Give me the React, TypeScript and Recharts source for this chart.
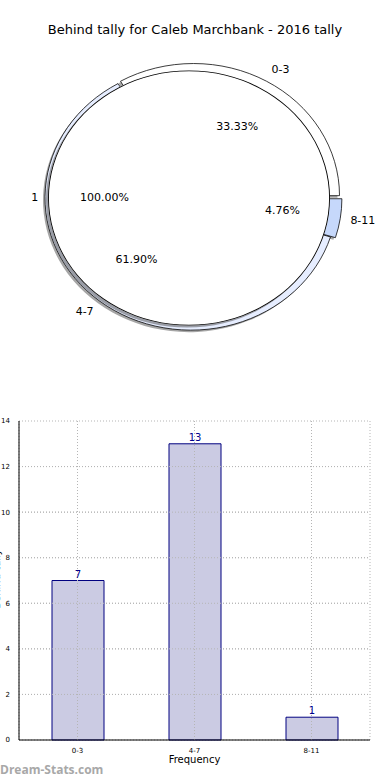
import React from "react";
import {
  PieChart,
  Pie,
  Cell,
  BarChart,
  Bar,
  XAxis,
  YAxis,
  CartesianGrid,
  LabelList,
  ReferenceLine,
} from "recharts";

// pie data (matplotlib style pie, drawn as an ellipse)
const PIE_NAMES = ["0-3", "4-7", "8-11"];
const PIE_VALUES = [7, 13, 1];
const PIE_COLORS = ["#ffffff", "#e6edff", "#c6d8fb"];
const TOTAL_NAMES = ["1"];
const TOTAL_VALUES = [1];

// bar data
const BAR_CATS = ["0-3", "4-7", "8-11"];
const BAR_VALUES = [7, 13, 1];
const Y_TICKS = [0, 2, 4, 6, 8, 10, 12, 14];

const RADIAN = Math.PI / 180;
const SY = 0.905; // vertical squash of the pie
const FONT = "'DejaVu Sans', sans-serif";

const pieData = PIE_NAMES.map((name, i) => ({ name, value: PIE_VALUES[i] }));
const totalData = TOTAL_NAMES.map((name, i) => ({ name, value: TOTAL_VALUES[i] }));
const barData = BAR_CATS.map((cat, i) => ({ cat, v: BAR_VALUES[i] }));

// explode offsets in px (pre-squash)
const EXPLODE = [
  { dx: 2.5, dy: -2.6 },
  { dx: 0, dy: 0 },
  { dx: 4.9, dy: 0.8 },
];

const PCX = 191;
const PCY = 198 / SY;
const PR = 146;
const TCX = 189;
const TR = 141;
const SHADOW = { dx: -2, dy: 2 / SY };

function squashedText(x: number, y: number, txt: string, anchor: string) {
  return (
    <text
      x={0}
      y={0}
      transform={`translate(${x},${y}) scale(1,${1 / SY})`}
      textAnchor={anchor}
      dominantBaseline="central"
      fontSize={11}
      fill="#000"
    >
      {txt}
    </text>
  );
}

function makeLabel(idx: number, values: number[]) {
  const sum = values.reduce((a, b) => a + b, 0);
  return (props: any) => {
    if (props.index !== idx) return null;
    const { cx, cy, midAngle, outerRadius, name } = props;
    const cos = Math.cos(-midAngle * RADIAN);
    const sin = Math.sin(-midAngle * RADIAN);
    const nx = cx + 1.07 * outerRadius * cos;
    const ny = cy + 1.1 * outerRadius * sin;
    const px = cx + 0.6 * outerRadius * cos;
    const py = cy + 0.6 * outerRadius * sin;
    const pct = ((values[idx] / sum) * 100).toFixed(2) + "%";
    return (
      <g>
        {squashedText(nx, ny, name, cos >= 0 ? "start" : "end")}
        {squashedText(px, py, pct, "middle")}
      </g>
    );
  };
}

function PiePart() {
  return (
    <div style={{ position: "absolute", left: 0, top: 0, width: 390, height: 390 }}>
      <div
        style={{
          position: "absolute",
          left: 0,
          top: 0,
          transform: `scaleY(${SY})`,
          transformOrigin: "0 0",
        }}
      >
        <PieChart width={390} height={431} margin={{ top: 0, right: 0, bottom: 0, left: 0 }}>
          {/* shadows of the tally wedges */}
          {PIE_NAMES.map((n, i) => (
            <Pie
              key={"s" + n}
              data={pieData}
              dataKey="value"
              cx={PCX + EXPLODE[i].dx + SHADOW.dx}
              cy={PCY + EXPLODE[i].dy + SHADOW.dy}
              outerRadius={PR}
              startAngle={0}
              endAngle={360}
              stroke="none"
              isAnimationActive={false}
            >
              {pieData.map((d, j) => (
                <Cell key={j} fill={j === i ? "#4d4d4d" : "none"} fillOpacity={0.5} stroke="none" />
              ))}
            </Pie>
          ))}
          {/* tally wedges */}
          {PIE_NAMES.map((n, i) => (
            <Pie
              key={"w" + n}
              data={pieData}
              dataKey="value"
              cx={PCX + EXPLODE[i].dx}
              cy={PCY + EXPLODE[i].dy}
              outerRadius={PR}
              startAngle={0}
              endAngle={360}
              isAnimationActive={false}
              labelLine={false}
              label={makeLabel(i, PIE_VALUES)}
            >
              {pieData.map((d, j) => (
                <Cell
                  key={j}
                  fill={j === i ? PIE_COLORS[j] : "none"}
                  stroke={j === i ? "#000" : "none"}
                  strokeWidth={0.8}
                />
              ))}
            </Pie>
          ))}
          {/* the full "1" circle */}
          <Pie
            data={totalData}
            dataKey="value"
            cx={TCX + SHADOW.dx}
            cy={PCY + SHADOW.dy}
            outerRadius={TR}
            startAngle={0}
            endAngle={360}
            fill="#4d4d4d"
            fillOpacity={0.5}
            stroke="none"
            isAnimationActive={false}
          />
          <Pie
            data={totalData}
            dataKey="value"
            cx={TCX}
            cy={PCY}
            outerRadius={TR}
            startAngle={0}
            endAngle={360}
            fill="#ffffff"
            stroke="none"
            isAnimationActive={false}
            labelLine={false}
            label={makeLabel(0, TOTAL_VALUES)}
          />
          <Pie
            data={totalData}
            dataKey="value"
            cx={TCX}
            cy={PCY}
            innerRadius={TR - 0.9}
            outerRadius={TR}
            startAngle={0}
            endAngle={360}
            fill="#000"
            stroke="none"
            isAnimationActive={false}
          />
        </PieChart>
      </div>
      <div
        style={{
          position: "absolute",
          left: 0,
          top: 21,
          width: 390,
          textAlign: "center",
          fontSize: 13,
          lineHeight: "18px",
        }}
      >
        Behind tally for Caleb Marchbank - 2016 tally
      </div>
    </div>
  );
}

function BarPart() {
  return (
    <div style={{ position: "absolute", left: 0, top: 390, width: 390, height: 390 }}>
      <div
        style={{
          position: "absolute",
          left: -63,
          top: 183,
          width: 120,
          textAlign: "center",
          fontSize: 10,
          lineHeight: "12px",
          transform: "rotate(-90deg)",
        }}
      >
        Behind tally
      </div>
      <div style={{ position: "absolute", left: 0, top: 0 }}>
        <BarChart width={390} height={390} data={barData} margin={{ top: 31, right: 20, left: 0, bottom: 0 }}>
          <CartesianGrid stroke="#b5b5b5" strokeDasharray="1 2" />
          <XAxis
            dataKey="cat"
            height={40}
            interval={0}
            tick={{ fontSize: 7, fill: "#000" }}
            tickLine={false}
            tickMargin={2}
            axisLine={{ stroke: "#000" }}
            label={{ value: "Frequency", position: "insideBottom", offset: 17, fontSize: 10, fill: "#000" }}
          />
          <XAxis
            xAxisId="top"
            orientation="top"
            dataKey="cat"
            height={0}
            tick={false}
            tickLine={false}
            axisLine={{ stroke: "#000" }}
          />
          <YAxis
            domain={[0, 14]}
            ticks={Y_TICKS}
            interval={0}
            width={19}
            tick={{ fontSize: 7, fill: "#000" }}
            tickLine={false}
            tickMargin={3}
            axisLine={{ stroke: "#000" }}
          />
          <YAxis
            yAxisId="right"
            orientation="right"
            domain={[0, 14]}
            width={0}
            tick={false}
            tickLine={false}
            axisLine={{ stroke: "#000" }}
          />
          <Bar dataKey="v" fill="#cbcbe3" stroke="#000080" strokeWidth={1} barSize={52} isAnimationActive={false}>
            <LabelList dataKey="v" position="top" offset={3} fill="#00008b" fontSize={10} />
          </Bar>
          {/* grid drawn over the bars, as in the source */}
          {BAR_CATS.map((c) => (
            <ReferenceLine key={"x" + c} x={c} stroke="#b5b5b5" strokeDasharray="1 2" />
          ))}
          {Y_TICKS.slice(1, -1).map((t) => (
            <ReferenceLine key={"y" + t} y={t} stroke="#b5b5b5" strokeDasharray="1 2" />
          ))}
        </BarChart>
      </div>
    </div>
  );
}

export default function App() {
  return (
    <div
      style={{
        position: "absolute",
        left: 0,
        top: 0,
        width: 390,
        height: 780,
        overflow: "hidden",
        background: "#fff",
        fontFamily: FONT,
      }}
    >
      <PiePart />
      <BarPart />
      <div
        style={{
          position: "absolute",
          left: 0,
          top: 761,
          fontSize: 12,
          fontWeight: "bold",
          color: "#a8a8a8",
          fontFamily: "'Open Sans', sans-serif",
        }}
      >
        Dream-Stats.com
      </div>
    </div>
  );
}
